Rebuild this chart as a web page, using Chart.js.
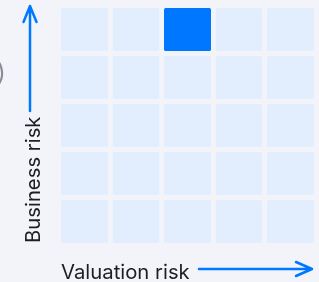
<!DOCTYPE html>
<html>
<head>
<meta charset="utf-8">
<script src="https://cdn.jsdelivr.net/npm/chart.js@4.4.0/dist/chart.umd.min.js"></script>
<style>
  html, body { margin: 0; padding: 0; background: #f2f4fa; }
  #wrap { width: 319px; height: 282px; }
</style>
</head>
<body>
<div id="wrap"><canvas id="chart" width="319" height="282"></canvas></div>
<script>
// columns: valuation risk, low -> high
var valuationLevels = ['1', '2', '3', '4', '5'];
// rows: business risk, low -> high
var businessLevels = ['1', '2', '3', '4', '5'];
// highlighted cell: [business level index, valuation level index]
var highlightCell = [4, 2];

var xTitle = 'Valuation risk';
var yTitle = 'Business risk';

var bg = '#f2f4fa';
var cellColor = '#e2eefe';
var accent = '#0077ff';

var datasets = businessLevels.map(function (b, r) {
	return {
		label: b,
		data: valuationLevels.map(function () { return [r, r + 1]; }),
		backgroundColor: valuationLevels.map(function (v, c) {
			return (r === highlightCell[0] && c === highlightCell[1]) ? accent : cellColor;
		}),
		borderColor: bg,
		borderWidth: { top: 2.5, bottom: 2.5, left: 0, right: 0 },
		borderSkipped: false,
		borderRadius: 4,
		grouped: false,
		barPercentage: 0.913,
		categoryPercentage: 1
	};
});

var decorations = {
	id: 'decorations',
	afterDraw: function (chart) {
		var ctx = chart.ctx;
		ctx.save();
		ctx.font = '20.3px Inter, sans-serif';
		ctx.fillStyle = '#1d1d22';
		ctx.textBaseline = 'alphabetic';
		ctx.textAlign = 'left';
		ctx.fillText(xTitle, 61, 279);

		ctx.save();
		ctx.translate(40, 243);
		ctx.rotate(-Math.PI / 2);
		ctx.fillText(yTitle, 0, 0);
		ctx.restore();

		// cut-off label at the left edge
		ctx.fillStyle = '#8a8d96';
		ctx.font = '24px Inter, sans-serif';
		ctx.fillText(')', -3, 81);

		ctx.strokeStyle = accent;
		ctx.lineWidth = 2.5;
		ctx.lineCap = 'round';
		ctx.lineJoin = 'round';
		ctx.beginPath();
		ctx.moveTo(30, 111);
		ctx.lineTo(30, 6);
		ctx.moveTo(23.5, 22);
		ctx.lineTo(30, 6);
		ctx.lineTo(36.5, 22);
		ctx.stroke();

		ctx.beginPath();
		ctx.moveTo(199, 269);
		ctx.lineTo(312, 269);
		ctx.moveTo(296, 262);
		ctx.lineTo(312, 269);
		ctx.lineTo(296, 276);
		ctx.stroke();
		ctx.restore();
	}
};

new Chart(document.getElementById('chart'), {
	type: 'bar',
	data: { labels: valuationLevels, datasets: datasets },
	options: {
		responsive: false,
		animation: false,
		layout: { padding: { left: 58.75, right: 2.75, top: 5.5, bottom: 36.5 } },
		plugins: { legend: { display: false }, tooltip: { enabled: false } },
		scales: {
			x: { display: false, offset: true },
			y: { display: false, min: 0, max: 5 }
		}
	},
	plugins: [decorations]
});
</script>
</body>
</html>
